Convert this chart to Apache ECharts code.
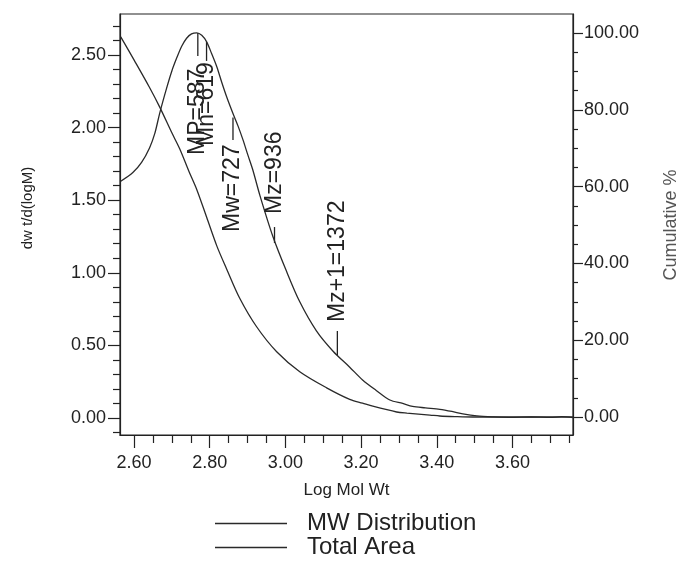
<!DOCTYPE html>
<html><head><meta charset="utf-8">
<script src="https://cdn.jsdelivr.net/npm/echarts@6/dist/echarts.min.js"></script>
<style>html,body{margin:0;padding:0;background:#fff}#c{width:681px;height:564px}</style>
</head><body><div id="c"></div>
<script>
// MW Distribution (left axis: dw t/d(logM))
const mwX = [2.565,2.597,2.62,2.641,2.655,2.668,2.686,2.70,2.713,2.726,2.739,2.752,2.766,2.779,2.792,2.805,2.819,2.832,2.845,2.861,2.875,2.888,2.901,2.914,2.933,2.967,3.003,3.038,3.082,3.126,3.17,3.204,3.24,3.276,3.31,3.336,3.37,3.408,3.44,3.469,3.506,3.55,3.60,3.65,3.70,3.73,3.76];
const mwY = [1.63,1.69,1.76,1.86,1.96,2.10,2.27,2.39,2.48,2.56,2.615,2.645,2.652,2.635,2.59,2.51,2.417,2.31,2.21,2.10,2.01,1.915,1.81,1.708,1.53,1.25,1.01,0.80,0.60,0.46,0.35,0.262,0.19,0.124,0.10,0.08,0.07,0.06,0.045,0.028,0.014,0.008,0.005,0.007,0.004,0.009,0.003];
// Total Area (right axis: Cumulative %)
const cumX = [2.565,2.60,2.64,2.668,2.70,2.721,2.745,2.766,2.792,2.819,2.845,2.879,2.924,2.977,3.038,3.109,3.17,3.204,3.231,3.294,3.321,3.382,3.408,3.45,3.495,3.55,3.60,3.65,3.70,3.76];
const cumY = [99.0,93.0,86.0,80.7,74.0,69.8,64.0,59.2,52.0,44.5,38.5,31.0,23.5,17.0,11.8,7.6,4.6,3.6,2.8,1.3,1.0,0.5,0.26,0.1,0.0,0.0,0.0,0.0,0.0,0.0];
// ticks
const xTickLabels = [2.60,2.80,3.00,3.20,3.40,3.60];
const xMinorTicks = [2.65,2.70,2.75,2.85,2.90,2.95,3.05,3.10,3.15,3.25,3.30,3.35,3.45,3.50,3.55,3.65,3.70,3.75];
const leftTicks = [0,0.5,1.0,1.5,2.0,2.5];
const leftMinor = [-0.1,0.1,0.2,0.3,0.4,0.6,0.7,0.8,0.9,1.1,1.2,1.3,1.4,1.6,1.7,1.8,1.9,2.1,2.2,2.3,2.4,2.6,2.7];
const rightTicks = [0,20,40,60,80,100];
const rightMinor = [5,10,15,25,30,35,45,50,55,65,70,75,85,90,95];
// molecular weight averages
const markerLabels = ['MP=587','Mn=619','Mw=727','Mz=936','Mz+1=1372'];
const markerMW = [587,619,727,936,1372];
const markerLineA = [2.652,2.59,2.07,1.205,0.434];
const markerLineB = [2.493,2.459,1.915,1.315,0.599];
const markerTextStart = [1.811,1.873,1.281,1.405,0.661];
const legendNames = ['MW Distribution','Total Area'];

const FONT = '"Liberation Sans", Arial, Helvetica, sans-serif';
const INK = '#222';
const chart = echarts.init(document.getElementById('c'), null, {renderer:'canvas'});

function baseAxis(extra){
  return Object.assign({type:'value', splitLine:{show:false}}, extra);
}
const xMin = 2.563, xMax = 3.76;
const yLMin = -0.117, yLMax = 2.782;
const yRMin = -4.69, yRMax = 104.95;

chart.setOption({
  animation:false,
  backgroundColor:'#fff',
  grid:{left:120, right:108, top:14, bottom:129, show:true, borderColor:INK, borderWidth:1.2},
  legend:{
    data:legendNames, orient:'vertical', left:215, top:511.5, padding:0,
    icon:'rect', itemWidth:72, itemHeight:1.3, itemGap:0,
    textStyle:{fontFamily:FONT, fontSize:24, color:INK, lineHeight:23, padding:[0,0,0,15]}
  },
  xAxis:[
    baseAxis({min:xMin, max:xMax, position:'bottom',
      name:'Log Mol Wt', nameLocation:'middle', nameGap:47,
      nameTextStyle:{fontFamily:FONT, fontSize:17, color:INK},
      axisLine:{onZero:false, lineStyle:{color:INK, width:1.2}},
      axisTick:{customValues:xTickLabels, length:13, lineStyle:{color:INK, width:1.2}},
      axisLabel:{customValues:xTickLabels, formatter:v=>v.toFixed(2), margin:19, fontFamily:FONT, fontSize:18, color:INK}}),
    baseAxis({min:xMin, max:xMax, position:'bottom',
      axisLine:{show:false, onZero:false},
      axisTick:{customValues:xMinorTicks, length:8, lineStyle:{color:INK, width:1.2}},
      axisLabel:{show:false}})
  ],
  yAxis:[
    baseAxis({min:yLMin, max:yLMax, position:'left',
      axisLine:{show:true, onZero:false, lineStyle:{color:INK, width:1.2}},
      axisTick:{customValues:leftTicks, length:12, lineStyle:{color:INK, width:1.2}},
      axisLabel:{customValues:leftTicks, formatter:v=>v.toFixed(2), margin:14, fontFamily:FONT, fontSize:18, color:INK}}),
    baseAxis({min:yLMin, max:yLMax, position:'left',
      axisLine:{show:false, onZero:false},
      axisTick:{customValues:leftMinor, length:7, lineStyle:{color:INK, width:1.2}},
      axisLabel:{show:false}}),
    baseAxis({min:yRMin, max:yRMax, position:'right',
      axisLine:{show:true, onZero:false, lineStyle:{color:INK, width:1.2}},
      axisTick:{customValues:rightTicks, length:10, lineStyle:{color:INK, width:1.2}},
      axisLabel:{customValues:rightTicks, formatter:v=>v.toFixed(2), margin:11, fontFamily:FONT, fontSize:18, color:INK}}),
    baseAxis({min:yRMin, max:yRMax, position:'right',
      axisLine:{show:false, onZero:false},
      axisTick:{customValues:rightMinor, length:5, lineStyle:{color:INK, width:1.2}},
      axisLabel:{show:false}})
  ],
  graphic:[
    {type:'text', x:28, y:208, rotation:Math.PI/2,
      style:{text:'dw t/d(logM)', fontFamily:FONT, fontSize:15, fill:INK, align:'center', verticalAlign:'middle'}},
    {type:'text', x:671, y:225, rotation:Math.PI/2,
      style:{text:'Cumulative %', fontFamily:FONT, fontSize:18, fill:'#555', align:'center', verticalAlign:'middle'}}
  ],
  series:[
    {name:legendNames[0], type:'line', xAxisIndex:0, yAxisIndex:0, symbol:'none', smooth:0.3,
      lineStyle:{color:'#2a2a2a', width:1.3}, itemStyle:{color:'#2a2a2a'},
      data:mwX.map((x,i)=>[x, mwY[i]])},
    {name:legendNames[1], type:'line', xAxisIndex:0, yAxisIndex:2, symbol:'none', smooth:0.3,
      lineStyle:{color:'#2a2a2a', width:1.3}, itemStyle:{color:'#2a2a2a'},
      data:cumX.map((x,i)=>[x, cumY[i]])},
    {name:'markers', type:'custom', xAxisIndex:0, yAxisIndex:0, silent:true,
      encode:{x:0, y:1},
      data:markerMW.map((m,i)=>[Math.log10(m), markerLineA[i], markerLineB[i], markerTextStart[i]]),
      renderItem:function(params, api){
        const i = params.dataIndex;
        const x = api.value(0);
        const pA = api.coord([x, api.value(1)]);
        const pB = api.coord([x, api.value(2)]);
        const pT = api.coord([x, api.value(3)]);
        return {type:'group', children:[
          {type:'line', shape:{x1:pA[0], y1:pA[1], x2:pB[0], y2:pB[1]}, style:{stroke:INK, lineWidth:1.3}},
          {type:'text', x:pT[0], y:pT[1], rotation:Math.PI/2,
            style:{text:markerLabels[i], fontFamily:FONT, fontSize:23, fill:INK, align:'left', verticalAlign:'middle'}}
        ]};
      }}
  ]
});
</script></body></html>
